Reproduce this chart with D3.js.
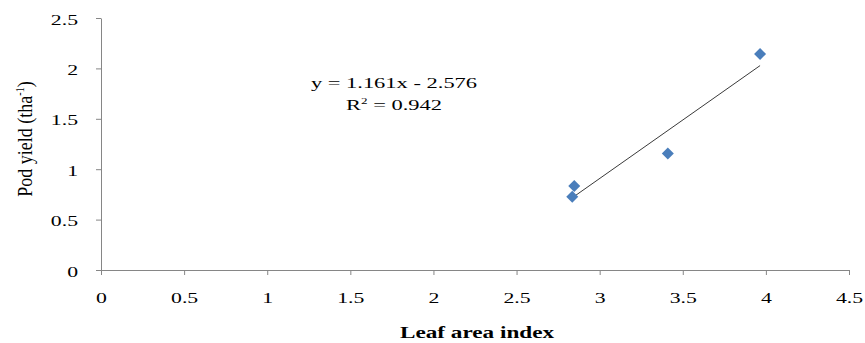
<!DOCTYPE html>
<html>
<head>
<meta charset="utf-8">
<script src="https://cdn.jsdelivr.net/npm/d3@7/dist/d3.min.js"></script>
<style>
  body { margin: 0; background: #fff; }
  text { font-family: "Liberation Serif", "Times New Roman", serif; fill: #000; }
</style>
</head>
<body>
<div id="chart"></div>
<script>
// leaf area index vs pod yield
var lai = [2.835, 2.847, 3.41, 3.965];
var podYield = [0.727, 0.833, 1.155, 2.143];
var xTicks = [0, 0.5, 1, 1.5, 2, 2.5, 3, 3.5, 4, 4.5];
var yTicks = [0, 0.5, 1, 1.5, 2, 2.5];

var width = 865, height = 343;
var margin = {left: 101, right: 16, top: 18, bottom: 73};
var stretch = 1.45; // text in the source is drawn wide

var svg = d3.select('#chart').append('svg')
    .attr('width', width)
    .attr('height', height);

var x = d3.scaleLinear().domain([0, 4.5]).range([margin.left, width - margin.right]);
var y = d3.scaleLinear().domain([0, 2.5]).range([height - margin.bottom, margin.top]);

var fmt = function (d) { return String(d); };

var xAxis = svg.append('g')
    .attr('transform', 'translate(0,' + y(0) + ')')
    .call(d3.axisBottom(x).tickValues(xTicks).tickFormat(fmt).tickSize(5).tickSizeOuter(0));

var yAxis = svg.append('g')
    .attr('transform', 'translate(' + x(0) + ',0)')
    .call(d3.axisLeft(y).tickValues(yTicks).tickFormat(fmt).tickSize(5).tickSizeOuter(0));

[xAxis, yAxis].forEach(function (ax) {
    ax.select('.domain').attr('stroke', '#868686');
    ax.selectAll('.tick line').attr('stroke', '#868686');
    ax.selectAll('.tick text')
        .style('font-size', '15px')
        .attr('fill', '#000')
        .attr('transform', 'scale(' + stretch + ',1)');
});
xAxis.selectAll('.tick text').attr('y', 33).attr('dy', 0);
yAxis.selectAll('.tick text').attr('x', -23 / stretch).attr('dy', 6);

// least squares fit
var mx = d3.mean(lai), my = d3.mean(podYield);
var sxy = d3.sum(lai, function (v, i) { return (v - mx) * (podYield[i] - my); });
var sxx = d3.sum(lai, function (v) { return (v - mx) * (v - mx); });
var slope = sxy / sxx, intercept = my - slope * mx;
var xs = d3.extent(lai);

svg.append('line')
    .attr('x1', x(xs[0])).attr('y1', y(slope * xs[0] + intercept))
    .attr('x2', x(xs[1])).attr('y2', y(slope * xs[1] + intercept))
    .attr('stroke', '#3a3a3a')
    .attr('stroke-width', 1);

var diamond = d3.symbol().type(d3.symbolSquare).size(72);
svg.append('g').selectAll('path')
    .data(lai.map(function (v, i) { return [v, podYield[i]]; }))
    .enter().append('path')
    .attr('d', diamond)
    .attr('transform', function (d) { return 'translate(' + x(d[0]) + ',' + y(d[1]) + ') rotate(45)'; })
    .attr('fill', '#4a7ebb');

function wideText(px, py, size) {
    return svg.append('text')
        .attr('transform', 'translate(' + px + ',' + py + ') scale(' + stretch + ',1)')
        .attr('text-anchor', 'middle')
        .style('font-size', size + 'px');
}

wideText(394, 88, 15.5).text('y = 1.161x - 2.576');

var r2 = wideText(394, 110, 15.5);
r2.append('tspan').text('R');
r2.append('tspan').attr('dy', -6).style('font-size', '9px').text('2');
r2.append('tspan').attr('dy', 6).text(' = 0.942');

wideText(477, 338, 16)
    .style('font-weight', 'bold')
    .text('Leaf area index');

var yt = svg.append('text')
    .attr('transform', 'translate(32,139) scale(1.2,1) rotate(-90)')
    .attr('text-anchor', 'middle')
    .style('font-size', '18px');
yt.append('tspan').text('Pod yield (tha');
yt.append('tspan').attr('dy', -7).style('font-size', '10px').text('-1');
yt.append('tspan').attr('dy', 7).text(')');
</script>
</body>
</html>
